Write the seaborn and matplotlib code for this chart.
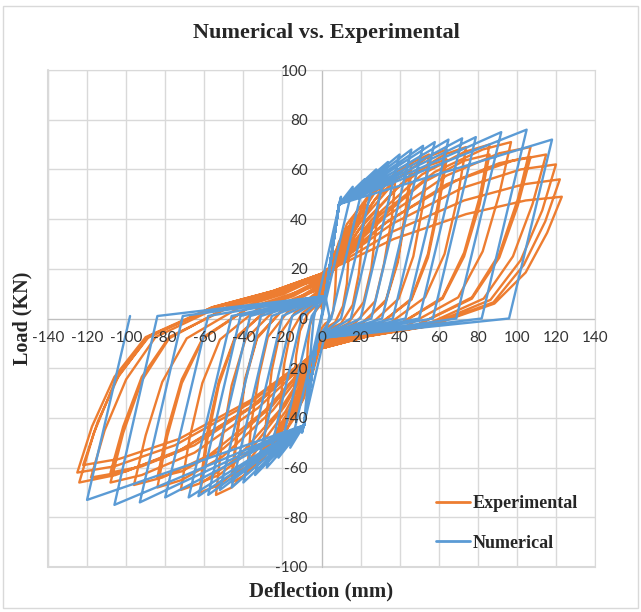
import pandas as pd
import matplotlib.pyplot as plt
import seaborn as sns
from matplotlib.lines import Line2D
from matplotlib.patches import Rectangle

#-----hysteresis loops: numerical vs experimental-----

# Experimental loops (one cycle per line: push to +peak, back, push to -peak, back)
exp_defl = [
    0, 2, 5, 7, 8, 7.5, 7, 6, 4, 2, 0, -2, -5, -7, -8, -7.5, -7, -6, -4, -2,
    0, 4.5, 9, 13, 15, 14, 13, 11, 7, 3, 0, -4.5, -9, -13, -15, -14, -13, -11, -7, -3,
    0, 6.5, 13, 19, 22, 21, 19, 16, 10, 4.5, 0, -6.5, -13, -19, -22, -21, -19, -16, -10, -4.5,
    0, 9, 18, 25.5, 30, 28, 25.5, 21.5, 13.5, 6, 0, -9, -18, -25.5, -30, -28, -25.5, -21.5, -13.5, -6,
    0, 11.5, 23, 32, 38, 36, 32, 27.5, 17, 7.5, 0, -11.5, -23, -32, -38, -36, -32, -27.5, -17, -7.5,
    0, 14, 27.5, 39, 46, 43, 39, 33, 20.5, 9, 0, -14, -27.5, -39, -46, -43, -39, -33, -20.5, -9,
    0, 14, 27.5, 39, 46, 43, 39, 33, 20.5, 9, 0, -14, -27.5, -39, -46, -43, -39, -33, -20.5, -9,
    0, 16.5, 33, 47, 55, 52, 47, 39.5, 25, 11, 0, -16, -32.5, -46, -54, -51, -46, -39, -24.5, -11,
    0, 19, 38.5, 54.5, 64, 60, 54.5, 46, 29, 13, 0, -18.5, -37, -52.5, -62, -58.5, -52.5, -44.5, -28, -12.5,
    0, 19, 38.5, 54.5, 64, 60, 54.5, 46, 29, 13, 0, -18.5, -37, -52.5, -62, -58.5, -52.5, -44.5, -28, -12.5,
    0, 22, 44.5, 63, 74, 69.5, 63, 53, 33, 15, 0, -21.5, -43, -61, -72, -67.5, -61, -52, -32.5, -14.5,
    0, 26, 51.5, 73, 86, 81, 73, 62, 38.5, 17, 0, -25, -50.5, -71.5, -84, -79, -71.5, -60.5, -38, -17,
    0, 26, 51.5, 73, 86, 81, 73, 62, 38.5, 17, 0, -25, -50.5, -71.5, -84, -79, -71.5, -60.5, -38, -17,
    0, 29, 58, 82.5, 97, 91, 82.5, 70, 43.5, 19.5, 0, -29, -57.5, -81.5, -96, -90, -81.5, -69, -43, -19,
    0, 32, 64, 91, 107, 100.5, 91, 77, 48, 21.5, 0, -32.5, -65, -92, -108, -101.5, -92, -78, -48.5, -21.5,
    0, 32, 64, 91, 107, 100.5, 91, 77, 48, 21.5, 0, -32.5, -65, -92, -108, -101.5, -92, -78, -48.5, -21.5,
    0, 34.5, 69, 98, 115, 108, 98, 83, 52, 23, 0, -35.5, -71, -100, -118, -111, -100, -85, -53, -23.5,
    0, 36, 72, 102, 120, 113, 102, 86.5, 54, 24, 0, -37, -74.5, -105.5, -124, -116.5, -105.5, -89.5, -56, -25,
    0, 36.5, 73, 103.5, 122, 114.5, 103.5, 88, 55, 24.5, 0, -37.5, -75, -106, -125, -117.5, -106, -90, -56, -25,
    0, 37, 74, 104.5, 123, 115.5, 104.5, 88.5, 55.5, 24.5, 0, -36.5, -73, -103.5, -122, -114.5, -103.5, -88, -55, -24.5, 0,
]
exp_load = [
    4, 15, 23, 27, 28, 20, 11, 3, -1, -2, -4, -15, -23, -27, -28, -20, -11, -3, 2, 4,
    6, 20, 31, 36, 38, 27, 14, 5, -1.5, -3.5, -6, -21, -32, -38, -40, -28, -15, -5, 2, 5,
    8, 25, 38, 44, 46, 32, 17.5, 5.5, -2, -4, -7, -25.5, -39, -46, -48, -34, -18, -6, 2, 5.5,
    9, 29, 43, 51, 53, 37, 20, 6.5, -2, -5, -8, -29, -45, -52.5, -55, -38.5, -21, -6.5, 2.5, 6,
    10, 31.5, 47.5, 55.5, 58, 40.5, 22, 7, -2, -5.5, -9, -32.5, -49.5, -58.5, -61, -42.5, -23, -7.5, 3, 6.5,
    11, 34, 51, 59.5, 62, 43.5, 23.5, 7.5, -2.5, -6, -10, -35, -53.5, -63, -66, -46, -25, -8, 3, 7,
    10, 32, 48, 56.5, 59, 41.5, 22.5, 7, -2, -5.5, -9, -33.5, -51, -60, -63, -44, -24, -7.5, 3, 6.5,
    12, 36, 54, 63, 66, 46, 25, 8, -2.5, -6, -10, -37.5, -57.5, -68, -71, -49.5, -27, -8.5, 3, 8,
    13, 38, 56, 65, 68, 47.5, 26, 8, -3, -6.5, -11, -37.5, -57, -67, -70, -49, -26.5, -8.5, 3.5, 8.5,
    12, 35.5, 52.5, 61.5, 64, 45, 24.5, 7.5, -2.5, -6, -10, -35, -53.5, -63, -66, -46, -25, -8, 3.5, 8,
    14, 39, 57, 66, 69, 48, 26, 8.5, -3, -6.5, -11, -37, -56, -66, -69, -48, -26, -8.5, 4, 9,
    15, 40, 58, 67, 70, 49, 26.5, 8.5, -3, -7, -12, -37, -55.5, -65, -68, -47.5, -26, -8, 4, 9.5,
    14, 37.5, 54.5, 63.5, 66, 46, 25, 8, -3, -6.5, -11, -35, -52.5, -61.5, -64, -45, -24.5, -7.5, 4, 9,
    16, 41, 59, 68, 71, 50, 27, 8.5, -3, -7, -12, -37, -55, -64, -67, -47, -25.5, -8, 4, 10,
    17, 40.5, 57.5, 66.5, 69, 48, 26, 8.5, -3, -7, -12, -36, -54, -63, -66, -46, -25, -8, 4.5, 11,
    16, 38, 54, 62.5, 65, 45.5, 24.5, 8, -3, -6.5, -11, -34, -51, -59.5, -62, -43.5, -23.5, -7.5, 4, 10,
    18, 39.5, 55.5, 63.5, 66, 46, 25, 8, -3, -7, -12, -35.5, -52.5, -61.5, -64, -45, -24.5, -7.5, 4.5, 11,
    18, 38, 52.5, 60, 62, 43.5, 23.5, 7.5, -3, -7, -12, -36, -54, -63, -66, -46, -25, -8, 4.5, 11,
    18, 35, 47.5, 54, 56, 39, 21.5, 6.5, -3, -7, -12, -34.5, -51, -59.5, -62, -43.5, -23.5, -7.5, 4.5, 11,
    18, 32, 42, 47.5, 49, 34.5, 18.5, 6, -3, -7, -12, -33, -48.5, -56.5, -59, -41.5, -22.5, -7, 4.5, 11, 18,
]

# Numerical loops (piecewise linear model, one cycle per line)
num_defl = [
    0,
    9, 10, -4, -9, -10, 4, 2,
    9, 16, 0, -2, -9, -16, 0, 2,
    9, 22, 5, -2, -9, -22, -5, 2,
    9, 28, 10, -2, -9, -28, -10, 2,
    9, 34, 15, -2, -9, -34, -15, 2,
    9, 40, 20, -2, -9, -40, -20, 2,
    9, 46, 25.5, -2, -9, -46, -25.5, 2,
    9, 52, 31, -2, -9, -52, -31, 2,
    9, 58, 36.5, -2, -9, -58, -36.5, 2,
    9, 65, 43, -2, -9, -63, -41.5, 2,
    9, 72, 50, -2, -9, -68, -46, 2,
    9, 79, 57, -2, -9, -80, -58, 2,
    9, 92, 69, -2, -9, -93, -71, 2,
    9, 105, 82, -2, -9, -106, -84, 2,
    9, 118, 96, -2, -9, -120, -98,
]
num_load = [
    0,
    46, 49, 0, -43, -46, 1, 9,
    46, 53, 0, -8, -43, -52, 1, 9,
    46, 56, 0, -8, -43, -56, 1, 9,
    46, 60, 0, -8, -43, -60, 1, 9,
    46, 63, 0, -8, -43, -63, 1, 9,
    46, 66, 0, -8, -43, -66, 1, 9,
    46, 68, 0, -8, -43, -68, 1, 9,
    46, 69.5, 0, -8, -43, -69, 1, 9,
    46, 71, 0, -8, -43, -71, 1, 9,
    46, 72, 0, -8, -43, -71.5, 1, 9,
    46, 72.5, 0, -8, -43, -72, 1, 9,
    46, 73, 0, -8, -43, -72, 1, 9,
    46, 75, 0, -8, -43, -74, 1, 9,
    46, 76, 0, -8, -43, -75, 1, 9,
    46, 72, 0, -8, -43, -73, 1,
]

x_ticks = list(range(-140, 141, 20))
y_ticks = list(range(-100, 101, 20))

colors = {'Experimental': '#ED7D31', 'Numerical': '#5B9BD5'}
grid_color = '#d9d9d9'
serif = 'Liberation Serif'

# Build one long table for seaborn
exp_df = pd.DataFrame({'Deflection': exp_defl, 'Load': exp_load, 'Series': 'Experimental'})
num_df = pd.DataFrame({'Deflection': num_defl, 'Load': num_load, 'Series': 'Numerical'})
df = pd.concat([exp_df, num_df], ignore_index=True)

sns.set_style('white')
plt.rcParams['axes.unicode_minus'] = False
fig = plt.figure(figsize=(6.41, 6.12), dpi=100)
ax = fig.add_axes([48 / 641, 1 - 567 / 612, 547 / 641, 497 / 612])

# gridlines drawn by hand so tick labels can sit above the curves
for xv in x_ticks:
    ax.axvline(xv, color=grid_color, linewidth=1, zorder=0)
for yv in y_ticks:
    ax.axhline(yv, color=grid_color, linewidth=1, zorder=0)

sns.lineplot(data=df, x='Deflection', y='Load', hue='Series', palette=colors,
             sort=False, estimator=None, linewidth=1.7, legend=False, ax=ax)

ax.set_xlim(-140, 140)
ax.set_ylim(-100, 100)
ax.set_xticks(x_ticks)
ax.set_yticks(y_ticks)
ax.grid(False)
ax.set_axisbelow(False)

# axes cross at the origin, like the Excel chart
for side in ['left', 'bottom']:
    ax.spines[side].set_position('zero')
    ax.spines[side].set_color('#bfbfbf')
    ax.spines[side].set_zorder(0.5)
for side in ['top', 'right']:
    ax.spines[side].set_color(grid_color)
ax.axvline(-140, color=grid_color, linewidth=1.5, clip_on=False, zorder=0)
ax.axhline(-100, color=grid_color, linewidth=1.5, clip_on=False, zorder=0)

ax.tick_params(axis='both', length=0, labelsize=11, labelcolor='#333333')
ax.tick_params(axis='x', pad=9)
ax.tick_params(axis='y', pad=10)
for lab in ax.get_xticklabels() + ax.get_yticklabels():
    lab.set_fontfamily('Lato')

ax.set_xlabel('Deflection (mm)', fontfamily=serif, fontweight='bold', fontsize=15)
ax.set_ylabel('Load (KN)', fontfamily=serif, fontweight='bold', fontsize=14.5)
ax.xaxis.set_label_coords(0.5, -0.03)
ax.yaxis.set_label_coords(-0.028, 0.5)

fig.text(326 / 641, 1 - 33 / 612, 'Numerical vs. Experimental', ha='center', va='center',
         fontfamily=serif, fontweight='bold', fontsize=16)

handles = [Line2D([], [], color=colors[s], linewidth=2) for s in ['Experimental', 'Numerical']]
leg = ax.legend(handles, ['Experimental', 'Numerical'], loc='upper left',
                bbox_to_anchor=(436 / 641, 1 - 495 / 612), bbox_transform=fig.transFigure,
                frameon=False, handlelength=1.9, handletextpad=0.15, labelspacing=1.25,
                borderpad=0, borderaxespad=0,
                prop={'family': serif, 'weight': 'bold', 'size': 13})

# thin chart border
fig.patches.append(Rectangle((3 / 641, 4 / 612), 635 / 641, 602 / 612, transform=fig.transFigure,
                             fill=False, edgecolor=grid_color, linewidth=1))

fig.savefig('out.png', dpi=100)
